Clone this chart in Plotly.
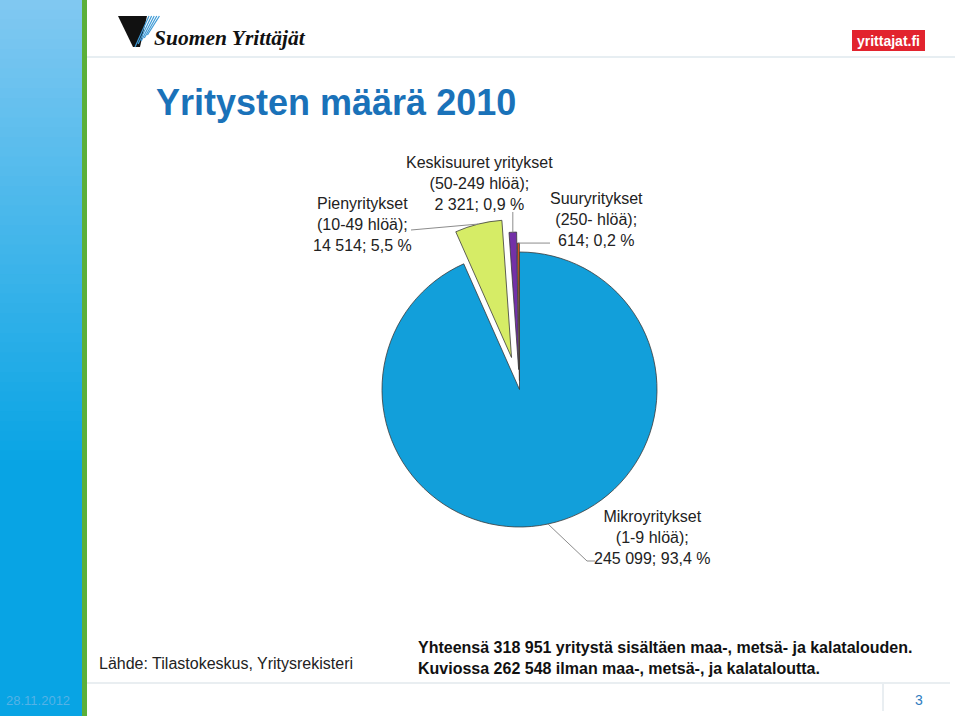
import math
import plotly.graph_objects as go

# ---------------- data ----------------
categories = ["Mikroyritykset", "Pienyritykset", "Keskisuuret yritykset", "Suuryritykset"]
size_classes = ["(1-9 hlöä);", "(10-49 hlöä);", "(50-249 hlöä);", "(250- hlöä);"]
counts = [245099, 14514, 2321, 614]
count_labels = ["245 099", "14 514", "2 321", "614"]
pct_labels = ["93,4 %", "5,5 %", "0,9 %", "0,2 %"]
pulls = [0.0, 0.24, 0.145, 0.065]
colors = ["#129FDA", "#D6EC66", "#7330A8", "#E0561B"]

title_text = "Yritysten määrä 2010"
source_text = "Lähde: Tilastokeskus, Yritysrekisteri"
note_lines = ["Yhteensä 318 951 yritystä sisältäen maa-, metsä- ja kalatalouden.",
              "Kuviossa 262 548 ilman maa-, metsä-, ja kalataloutta."]
date_text = "28.11.2012"
page_text = "3"

# ---------------- layout helpers ----------------
W, H = 960, 716
def px(x):
    return x / W
def py(y):
    return 1 - y / H

CX, CY, R = 519.5, 389.5, 137.5
max_pull = max(pulls)
half = R * (1 + max_pull)

fig = go.Figure()
fig.add_trace(go.Pie(
    labels=categories, values=counts, pull=pulls, sort=False,
    direction="clockwise", rotation=0,
    marker=dict(colors=colors, line=dict(color="#3a3a3a", width=0.8)),
    textinfo="none", hoverinfo="label+value+percent", showlegend=False,
    domain=dict(x=[px(CX - half), px(CX + half)], y=[py(CY + half), py(CY - half)]),
))

shapes = []
# left gradient strip (solid base + overlapping bands)
shapes.append(dict(type="rect", xref="paper", yref="paper", x0=0, x1=px(82), y0=0, y1=1,
                   fillcolor="rgb(8,164,228)", line=dict(width=0), layer="below"))
n = 48
top_c = (128, 200, 241)
bot_c = (8, 164, 228)
band_end = 470
for i in range(n):
    y0 = i * band_end / n
    y1 = y0 + band_end / n + 3
    t = i / (n - 1)
    c = tuple(int(round(top_c[k] + (bot_c[k] - top_c[k]) * t)) for k in range(3))
    shapes.append(dict(type="rect", xref="paper", yref="paper",
                       x0=0, x1=px(82), y0=py(y1), y1=py(y0),
                       fillcolor="rgb(%d,%d,%d)" % c, line=dict(width=0), layer="below"))
# green vertical bar
shapes.append(dict(type="rect", xref="paper", yref="paper", x0=px(82), x1=px(87),
                   y0=0, y1=1, fillcolor="#5BAF3A", line=dict(width=0), layer="below"))
# header / footer separator lines
shapes.append(dict(type="line", xref="paper", yref="paper", x0=px(87), x1=px(955),
                   y0=py(57), y1=py(57), line=dict(color="#cfdde6", width=1.2)))
shapes.append(dict(type="line", xref="paper", yref="paper", x0=px(87), x1=px(950),
                   y0=py(683), y1=py(683), line=dict(color="#d3dde4", width=1.2)))
shapes.append(dict(type="line", xref="paper", yref="paper", x0=px(883), x1=px(883),
                   y0=py(684), y1=py(711), line=dict(color="#d3dde4", width=1)))

# logo (left): black wedge + blue stripes
shapes.append(dict(type="path", xref="paper", yref="paper",
                   path="M %f,%f L %f,%f L %f,%f L %f,%f Z" % (px(118), py(16), px(147), py(16), px(140), py(47), px(133), py(47)),
                   fillcolor="#111111", line=dict(width=0)))
for k in range(5):
    x_top = 149 + k * 2.6
    shapes.append(dict(type="line", xref="paper", yref="paper",
                       x0=px(x_top), y0=py(16), x1=px(x_top - 14 + k * 0.5), y1=py(47 - k * 3),
                       line=dict(color="#3d9ad6", width=1.2)))
# logo (right): red box
shapes.append(dict(type="rect", xref="paper", yref="paper", x0=px(852), x1=px(925),
                   y0=py(51), y1=py(30), fillcolor="#E2232E", line=dict(width=0)))

# leader lines computed from the slice geometry
total = sum(counts)
edge = []
cum = 0.0
for v, p in zip(counts, pulls):
    mid = math.radians((cum + v / 2) / total * 360)
    cum += v
    rr = R * (1 + p)
    edge.append((CX + rr * math.sin(mid), CY - rr * math.cos(mid)))

lc = dict(color="#8c8c8c", width=1)
def seg(x0, y0, x1, y1):
    shapes.append(dict(type="line", xref="paper", yref="paper",
                       x0=px(x0), y0=py(y0), x1=px(x1), y1=py(y1), line=lc))

# Mikro
seg(edge[0][0], edge[0][1], 587, 561)
seg(587, 561, 595, 561)
# Pieny
seg(411, 230, edge[1][0], edge[1][1])
# Keski
seg(edge[2][0], 212, edge[2][0], edge[2][1])
# Suury
seg(edge[3][0], edge[3][1], 550, edge[3][1])

fig.update_layout(shapes=shapes)

SANS = "Liberation Sans, Arial, sans-serif"
lab_font = dict(family=SANS, size=16, color="#222222")
label_pos = [(652, 537), (362, 224), (479, 183), (596, 219)]
annotations = []
for i in range(len(categories)):
    txt = "%s<br>%s<br>%s; %s" % (categories[i], size_classes[i], count_labels[i], pct_labels[i])
    annotations.append(dict(x=px(label_pos[i][0]), y=py(label_pos[i][1]), xref="paper", yref="paper",
                            text=txt, showarrow=False, font=lab_font, align="center",
                            xanchor="center", yanchor="middle"))

annotations.append(dict(x=px(154), y=py(103), xref="paper", yref="paper", text="<b>%s</b>" % title_text,
                        showarrow=False, xanchor="left", yanchor="middle",
                        font=dict(family=SANS, size=36, color="#1A72B9")))
annotations.append(dict(x=px(152), y=py(38), xref="paper", yref="paper", text="<b><i>Suomen Yrittäjät</i></b>",
                        showarrow=False, xanchor="left", yanchor="middle",
                        font=dict(family="Liberation Serif, DejaVu Serif, serif", size=21.5, color="#111111")))
annotations.append(dict(x=px(888.5), y=py(40.5), xref="paper", yref="paper", text="<b>yrittajat.fi</b>",
                        showarrow=False, xanchor="center", yanchor="middle",
                        font=dict(family=SANS, size=14, color="#ffffff")))
annotations.append(dict(x=px(97), y=py(663), xref="paper", yref="paper", text=source_text,
                        showarrow=False, xanchor="left", yanchor="middle",
                        font=dict(family=SANS, size=16, color="#222222")))
annotations.append(dict(x=px(416), y=py(658), xref="paper", yref="paper",
                        text="<b>%s</b><br><b>%s</b>" % (note_lines[0], note_lines[1]),
                        showarrow=False, xanchor="left", yanchor="middle", align="left",
                        font=dict(family=SANS, size=16, color="#111111")))
annotations.append(dict(x=px(4), y=py(700), xref="paper", yref="paper", text=date_text,
                        showarrow=False, xanchor="left", yanchor="middle",
                        font=dict(family=SANS, size=13, color="#55B2E6")))
annotations.append(dict(x=px(919), y=py(700), xref="paper", yref="paper", text=page_text,
                        showarrow=False, xanchor="center", yanchor="middle",
                        font=dict(family=SANS, size=14, color="#2F7DBF")))

fig.update_layout(
    annotations=annotations,
    width=W, height=H,
    margin=dict(l=0, r=0, t=0, b=0, pad=0),
    paper_bgcolor="white", plot_bgcolor="white",
)

fig.write_html("out.html", include_plotlyjs=True, config=dict(displayModeBar=False),
               post_script="document.body.style.margin='0px';document.body.style.overflow='hidden';")
